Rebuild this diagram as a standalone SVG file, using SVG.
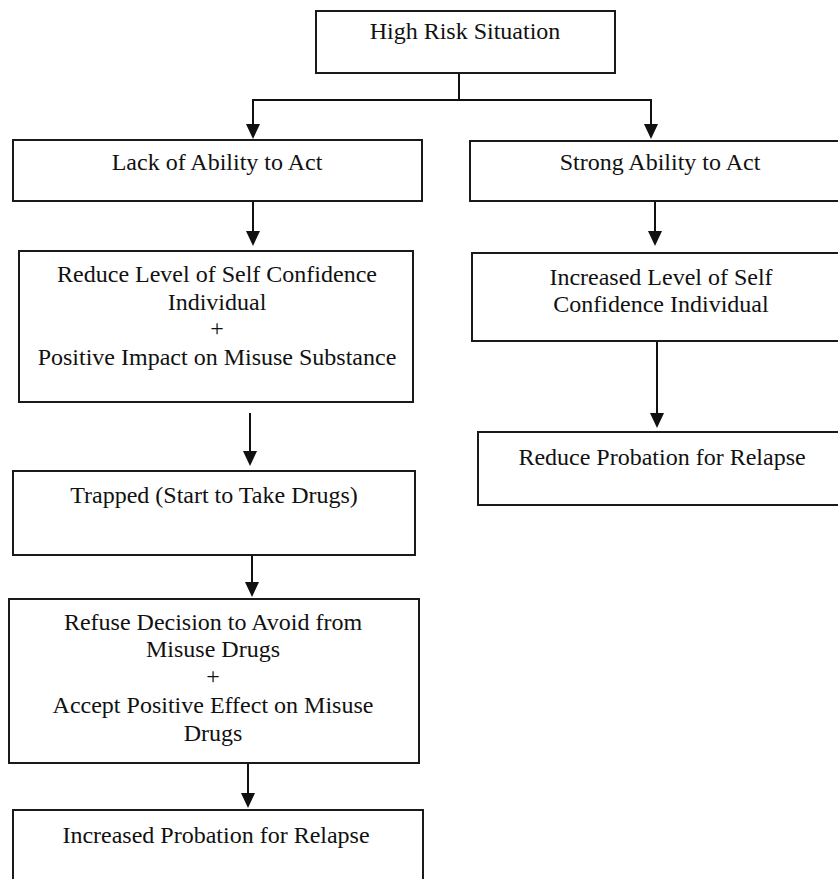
<svg xmlns="http://www.w3.org/2000/svg" width="838" height="879" viewBox="0 0 838 879">
<style>
.box{fill:#fff;stroke:#1a1a1a;stroke-width:2}
.t{font-family:'Liberation Serif','Times New Roman',serif;font-size:24px;fill:#111;text-anchor:middle}
.c{fill:none;stroke:#111;stroke-width:2}
.ah{fill:#111}
</style>
<rect width="838" height="879" fill="#fff"/>
<g id="connectors">
<polyline class="c" points="459,73 459,100 253,100 253,124"/>
<path class="ah" d="M246,124 L260,124 L253,139 Z"/>
<polyline class="c" points="459,100 651,100 651,124"/>
<path class="ah" d="M644,124 L658,124 L651,139 Z"/>
<line class="c" x1="253" y1="201" x2="253" y2="232"/>
<path class="ah" d="M246,231 L260,231 L253,246 Z"/>
<line class="c" x1="250" y1="413" x2="250" y2="452"/>
<path class="ah" d="M243,451 L257,451 L250,466 Z"/>
<line class="c" x1="252" y1="552" x2="252" y2="583"/>
<path class="ah" d="M245,582 L259,582 L252,597 Z"/>
<line class="c" x1="248" y1="763" x2="248" y2="794"/>
<path class="ah" d="M241,793 L255,793 L248,808 Z"/>
<line class="c" x1="655" y1="201" x2="655" y2="232"/>
<path class="ah" d="M648,231 L662,231 L655,246 Z"/>
<line class="c" x1="657" y1="341" x2="657" y2="414"/>
<path class="ah" d="M650,413 L664,413 L657,428 Z"/>
</g>
<g id="high-risk">
<rect class="box" x="316" y="11" width="299" height="62"/>
<text class="t" x="465" y="39">High Risk Situation</text>
</g>
<g id="lack-ability">
<rect class="box" x="13" y="140" width="409" height="61"/>
<text class="t" x="217" y="170">Lack of Ability to Act</text>
</g>
<g id="strong-ability">
<rect class="box" x="470" y="141" width="380" height="60"/>
<text class="t" x="660" y="170">Strong Ability to Act</text>
</g>
<g id="reduce-confidence">
<rect class="box" x="19" y="251" width="394" height="151"/>
<text class="t" x="217" y="282">Reduce Level of Self Confidence</text>
<text class="t" x="217" y="310">Individual</text>
<text class="t" x="217" y="336">+</text>
<text class="t" x="217" y="365">Positive Impact on Misuse Substance</text>
</g>
<g id="increased-confidence">
<rect class="box" x="472" y="253" width="380" height="88"/>
<text class="t" x="661" y="285">Increased Level of Self</text>
<text class="t" x="661" y="312">Confidence Individual</text>
</g>
<g id="reduce-probation">
<rect class="box" x="478" y="432" width="380" height="73"/>
<text class="t" x="662" y="465">Reduce Probation for Relapse</text>
</g>
<g id="trapped">
<rect class="box" x="13" y="471" width="402" height="84"/>
<text class="t" x="214" y="503">Trapped (Start to Take Drugs)</text>
</g>
<g id="refuse-decision">
<rect class="box" x="9" y="599" width="410" height="164"/>
<text class="t" x="213" y="630">Refuse Decision to Avoid from</text>
<text class="t" x="213" y="657">Misuse Drugs</text>
<text class="t" x="213" y="684">+</text>
<text class="t" x="213" y="713">Accept Positive Effect on Misuse</text>
<text class="t" x="213" y="741">Drugs</text>
</g>
<g id="increased-probation">
<rect class="box" x="13" y="810" width="410" height="90"/>
<text class="t" x="216" y="843">Increased Probation for Relapse</text>
</g>
</svg>
